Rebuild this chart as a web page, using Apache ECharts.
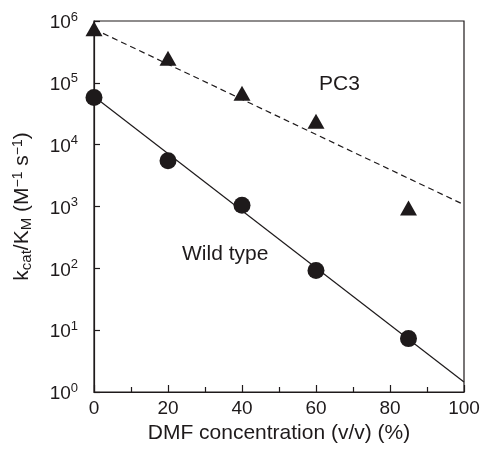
<!DOCTYPE html>
<html><head><meta charset="utf-8">
<script src="https://cdn.jsdelivr.net/npm/echarts@6/dist/echarts.min.js"></script>
<style>html,body{margin:0;padding:0;background:#fff}#c{width:483px;height:451px}</style>
</head><body><div id="c"></div>
<script>
// data
const dmf = [0, 20, 40, 60, 85];
const wildType = [58000, 5500, 1050, 92, 7.3];
const pc3 = [750000, 250000, 68000, 24000, 950];
const wildFit = [[0, 60000], [100, 1.45]];
const pc3Fit = [[0, 740000], [100, 1070]];
const xTicks = [0, 20, 40, 60, 80, 100];

const C = '#1e1a1b';
const F = 'Liberation Sans, Arial, sans-serif';
const chart = echarts.init(document.getElementById('c'), null, {renderer: 'canvas'});
chart.setOption({
  animation: false,
  backgroundColor: '#fff',
  grid: {left: 94, right: 19, top: 21, bottom: 59, show: true, borderColor: C, borderWidth: 1.2, backgroundColor: 'transparent'},
  xAxis: {
    type: 'value', min: 0, max: 100, interval: 20,
    name: 'DMF concentration (v/v) (%)', nameLocation: 'middle', nameGap: 26,
    nameTextStyle: {fontFamily: F, fontSize: 21, color: C},
    axisLine: {lineStyle: {color: C, width: 1.2}},
    axisTick: {inside: true, length: 7, lineStyle: {color: C, width: 1.2}},
    minorTick: {show: true, splitNumber: 2, length: 5, lineStyle: {color: C, width: 1.2}},
    axisLabel: {fontFamily: F, fontSize: 19, color: C, margin: 7,
      formatter: v => xTicks.includes(v) ? String(v) : ''},
    splitLine: {show: false}
  },
  yAxis: {
    type: 'log', logBase: 10, min: 1, max: 1e6,
    name: 'k{sub|cat}/K{sub|M} (M{sup|−1} s{sup|−1})', nameLocation: 'middle', nameGap: 60, nameRotate: 90,
    nameTextStyle: {fontFamily: F, fontSize: 21, color: C,
      rich: {sub: {fontFamily: F, fontSize: 15, color: C, padding: [8, 0, 0, 0]},
             sup: {fontFamily: F, fontSize: 14, color: C, padding: [0, 0, 9, 0]}}},
    axisLine: {show: true, lineStyle: {color: C, width: 1.2}},
    axisTick: {inside: true, length: 6, lineStyle: {color: C, width: 1.2}},
    axisLabel: {fontFamily: F, fontSize: 19, color: C, margin: 16,
      formatter: v => '{b|10}{s|' + Math.round(Math.log10(v)) + '}',
      rich: {b: {fontFamily: F, fontSize: 19, color: C, padding: [4, 0, 0, 0]},
             s: {fontFamily: F, fontSize: 13, color: C, padding: [0, 0, 8, 0]}}},
    splitLine: {show: false}
  },
  series: [
    {type: 'line', data: wildFit, symbol: 'none', lineStyle: {color: C, width: 1.2}, z: 2},
    {type: 'line', data: pc3Fit, symbol: 'none', lineStyle: {color: C, width: 1.2, type: [6, 4]}, z: 2},
    {type: 'scatter', data: dmf.map((x, i) => [x, wildType[i]]), symbol: 'circle', symbolSize: 17,
      itemStyle: {color: C, opacity: 1}, z: 3},
    {type: 'scatter', data: dmf.map((x, i) => [x, pc3[i]]), symbol: 'triangle', symbolSize: [17, 15],
      itemStyle: {color: C, opacity: 1}, z: 3}
  ],
  graphic: [
    {type: 'text', left: 319, top: 74, style: {text: 'PC3', fontFamily: F, fontSize: 21, fill: C}},
    {type: 'text', left: 182, top: 244, style: {text: 'Wild type', fontFamily: F, fontSize: 21, fill: C}}
  ]
});
</script></body></html>
